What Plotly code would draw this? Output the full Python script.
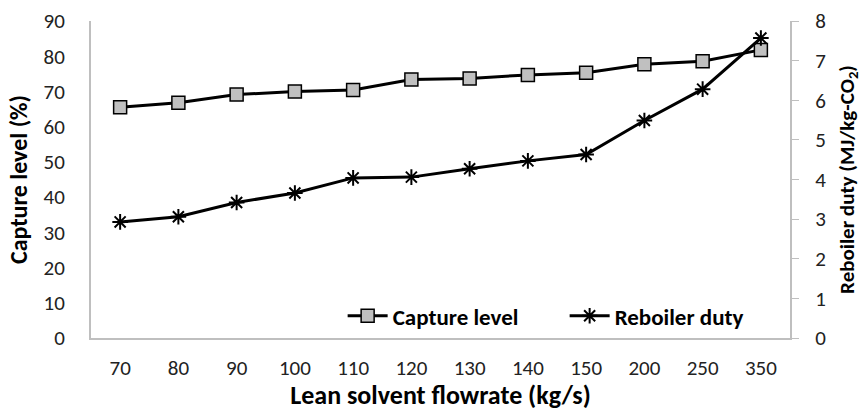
import plotly.graph_objects as go

categories = ["70", "80", "90", "100", "110", "120", "130", "140", "150", "200", "250", "350"]
capture_level = [65.5, 66.8, 69.1, 70.0, 70.4, 73.4, 73.7, 74.7, 75.3, 77.7, 78.6, 81.8]
reboiler_duty = [2.93, 3.06, 3.42, 3.66, 4.04, 4.06, 4.27, 4.47, 4.63, 5.49, 6.28, 7.57]

FONT = "Carlito, Lato, sans-serif"

fig = go.Figure()
fig.add_trace(go.Scatter(
    x=categories, y=capture_level, name="Capture level", mode="lines+markers",
    line=dict(color="black", width=3),
    marker=dict(symbol="square", size=13, color="#C0C0C0", line=dict(color="black", width=1.5)),
))
fig.add_trace(go.Scatter(
    x=categories, y=reboiler_duty, name="Reboiler duty", mode="lines+markers", yaxis="y2",
    line=dict(color="black", width=3),
    marker=dict(symbol="asterisk-open", size=13, color="black", line=dict(color="black", width=2)),
))

fig.update_layout(
    width=868, height=411,
    margin=dict(l=91, r=78, t=21, b=73, autoexpand=False),
    paper_bgcolor="white", plot_bgcolor="white",
    font=dict(family=FONT, size=21, color="#222222"),
    showlegend=True,
    legend=dict(orientation="h", x=0.36, xanchor="left", y=0.07, yanchor="middle",
                font=dict(family=FONT, size=23, color="black", weight="bold"),
                bgcolor="rgba(255,255,255,0)", itemwidth=40, tracegroupgap=0,
                entrywidth=167, entrywidthmode="pixels"),
    xaxis=dict(type="category", range=[-0.5, 11.5], showgrid=False, zeroline=False,
               showline=True, linecolor="#BFBFBF", linewidth=2, ticks="",
               ticklabelstandoff=10, automargin=False,
               tickfont=dict(family=FONT, size=21),
               title=dict(text="<b>Lean solvent flowrate (kg/s)</b>", standoff=0,
                          font=dict(family=FONT, size=26, color="black"))),
    yaxis=dict(range=[0, 90], dtick=10, showgrid=False, zeroline=False,
               showline=True, linecolor="#BFBFBF", linewidth=2, ticks="",
               ticklabelstandoff=20, automargin=False,
               tickfont=dict(family=FONT, size=21),
               title=dict(text="<b>Capture level (%)</b>", standoff=9,
                          font=dict(family=FONT, size=24, color="black"))),
    yaxis2=dict(range=[0, 8], dtick=1, overlaying="y", side="right", showgrid=False,
                zeroline=False, showline=True, linecolor="#BFBFBF", linewidth=2,
                ticks="outside", ticklen=7, tickcolor="#BFBFBF",
                ticklabelstandoff=12, automargin=False,
                tickfont=dict(family=FONT, size=21),
                title=dict(text="<b>Reboiler duty (MJ/kg-CO<sub>2</sub>)</b>", standoff=14,
                           font=dict(family=FONT, size=21, color="black"))),
)

fig.write_html("out.html", config={"displayModeBar": False},
               post_script="document.body.style.margin='0';document.body.style.overflow='hidden';")
